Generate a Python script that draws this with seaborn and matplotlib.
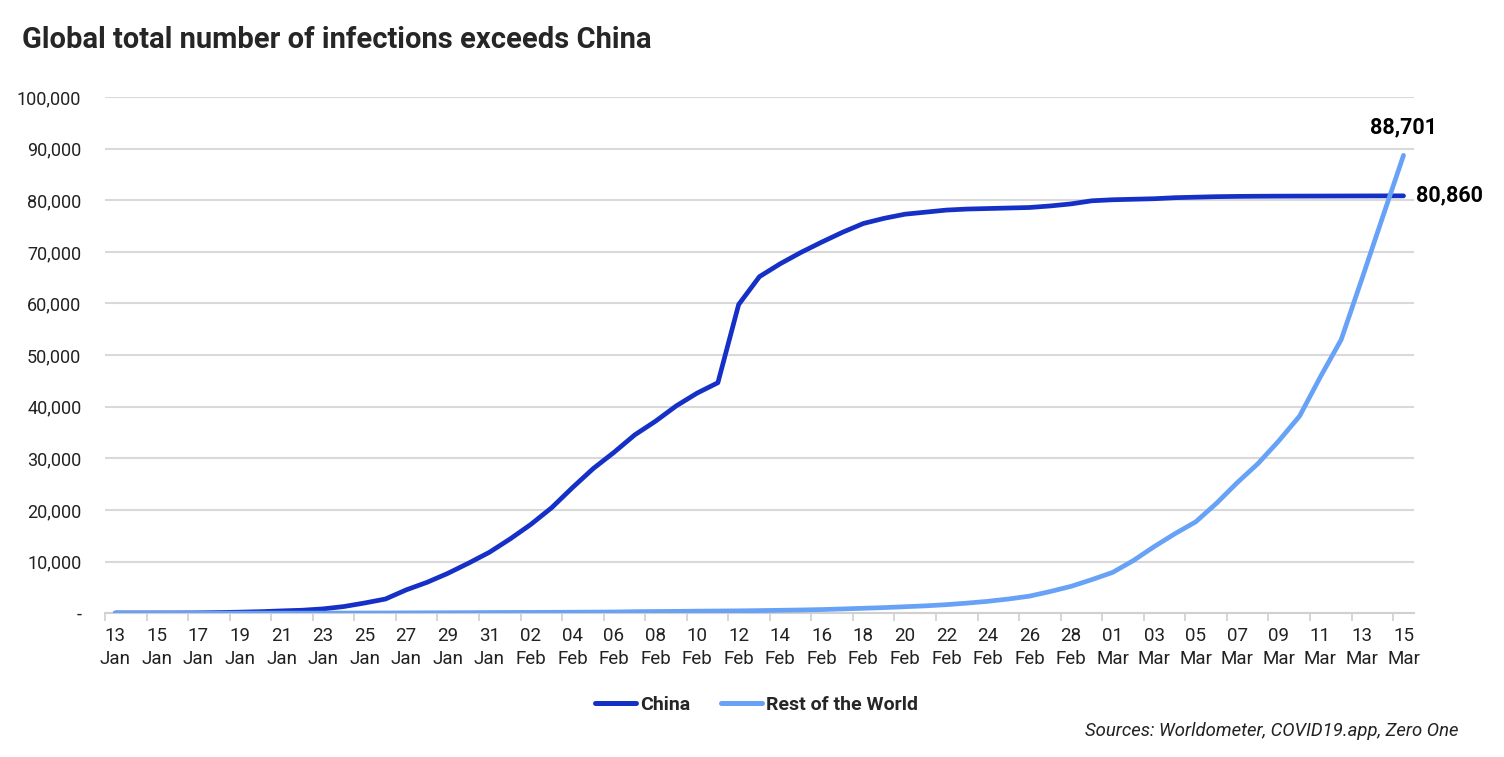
import numpy as np
import pandas as pd
import matplotlib
matplotlib.use("Agg")
import matplotlib.pyplot as plt
from matplotlib.ticker import FuncFormatter, FixedLocator
import seaborn as sns

# daily cumulative cases, 13 Jan - 15 Mar 2020
dates = pd.date_range("2020-01-13", "2020-03-15", freq="D")

china = [
    41, 41, 41, 45, 62, 121, 198, 291, 440, 571, 830, 1287, 1975, 2744,
    4515, 5974, 7711, 9692, 11791,
    14380, 17205, 20438, 24324, 28018, 31161, 34546, 37198, 40171, 42638,
    44653, 59804, 65200, 67700, 69900, 71900, 73800, 75500, 76500, 77300,
    77700, 78100, 78300, 78400, 78500, 78600, 78900, 79300, 79900,
    80100, 80200, 80300, 80500, 80600, 80700, 80750, 80780, 80800, 80810,
    80820, 80830, 80840, 80850, 80860,
]
rest_of_world = [
    1, 1, 1, 2, 3, 4, 5, 6, 8, 10, 14, 21, 30, 40, 55, 70, 85, 100, 125,
    140, 150, 165, 185, 205, 230, 290, 320, 350, 390, 420, 450, 500, 560,
    620, 700, 820, 950, 1080, 1250, 1420, 1650, 1950, 2300, 2750, 3300,
    4200, 5200, 6500,
    7900, 10200, 12900, 15400, 17700, 21300, 25300, 29000, 33400, 38200,
    45800, 53000, 64800, 76800, 88701,
]
series_names = ["China", "Rest of the World"]
colors = ["#1530C6", "#67A2F7"]

df = pd.DataFrame({
    "day": np.arange(len(dates)).tolist() * 2,
    "cases": china + rest_of_world,
    "series": [series_names[0]] * len(dates) + [series_names[1]] * len(dates),
})

sns.set_theme(style="white")
plt.rcParams["font.family"] = ["Roboto", "DejaVu Sans"]

fig = plt.figure(figsize=(15.04, 7.57), dpi=100)
ax = fig.add_axes([0.0698, 0.190, 0.8703, 0.6818])

sns.lineplot(data=df, x="day", y="cases", hue="series", palette=colors,
             linewidth=3.4, ax=ax, legend=False, zorder=3)

ax.set_xlim(-0.5, len(dates) - 0.5)
ax.set_ylim(0, 100000)
ax.set_xlabel("")
ax.set_ylabel("")

# y axis
ax.set_yticks(np.arange(0, 100001, 10000))
ax.yaxis.set_major_formatter(FuncFormatter(lambda v, p: "-" if v == 0 else f"{int(v):,}"))
ax.tick_params(axis="y", length=0, pad=17, labelsize=13, labelcolor="#222222")
ax.grid(axis="y", color="#d9d9d9", linewidth=1.5, zorder=0)
ax.grid(axis="x", visible=False)

# x axis: labels every 2 days, tick marks at category edges
lab_pos = np.arange(0, len(dates), 2)
ax.set_xticks(lab_pos)
ax.set_xticklabels([d.strftime("%d\n%b") for d in dates[lab_pos]], linespacing=1.35)
ax.xaxis.set_minor_locator(FixedLocator(np.concatenate([[-0.5], lab_pos[1:] - 0.5])))
ax.tick_params(axis="x", which="major", length=0, pad=10, labelsize=13.5, labelcolor="#222222")
ax.tick_params(axis="x", which="minor", length=6, width=1.2, color="#d0d0d0", bottom=True)

for s in ["top", "left", "right"]:
    ax.spines[s].set_visible(False)
ax.spines["bottom"].set_color("#d0d0d0")
ax.spines["bottom"].set_linewidth(1.5)

# end labels
last = len(dates) - 1
ax.annotate(f"{rest_of_world[-1]:,}", xy=(last, rest_of_world[-1]), xytext=(0, 20),
            textcoords="offset points", ha="center", va="center",
            fontsize=15.5, fontweight="bold", color="black")
ax.annotate(f"{china[-1]:,}", xy=(last, china[-1]), xytext=(9, 0),
            textcoords="offset points", ha="left", va="center",
            fontsize=15.5, fontweight="bold", color="black", annotation_clip=False)

# legend
handles = [plt.Line2D([], [], color=c, linewidth=3.6, solid_capstyle="round") for c in colors]
leg = fig.legend(handles, series_names, loc="center", bbox_to_anchor=(0.503, 0.069),
                 ncol=2, frameon=False, handlelength=2.1, handletextpad=0.2,
                 columnspacing=1.6, prop={"weight": "bold", "size": 14})

fig.text(0.0146, 0.947, "Global total number of infections exceeds China",
         fontsize=21, fontweight="bold", ha="left", va="center")
fig.text(0.9695, 0.034, "Sources: Worldometer, COVID19.app, Zero One",
         fontsize=13.3, style="italic", ha="right", va="center", color="#222222")

fig.savefig("out.png", dpi=100)
